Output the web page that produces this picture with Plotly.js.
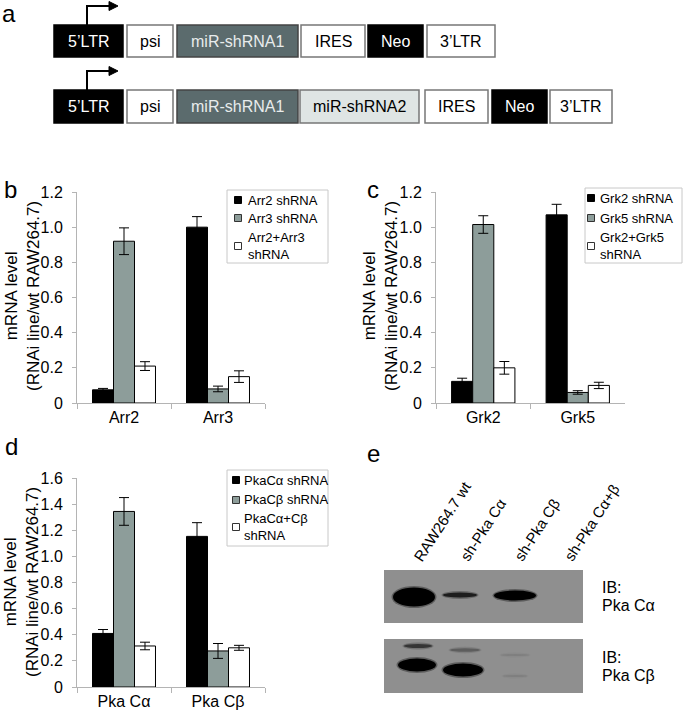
<!DOCTYPE html>
<html>
<head>
<meta charset="utf-8">
<script src="https://cdn.plot.ly/plotly-3.0.1.min.js"></script>
<style>html,body{margin:0;padding:0;background:#fff;}#chart{width:685px;height:714px;}</style>
</head>
<body>
<div id="chart"></div>
<script>
// ---------- DATA ----------
// panel b
const catsB = ['Arr2', 'Arr3'];
const namesB = ['Arr2 shRNA', 'Arr3 shRNA', 'Arr2+Arr3<br>shRNA'];
const arr2sh = [0.075, 1.00];
const arr3sh = [0.92, 0.08];
const arr23sh = [0.21, 0.15];
const arr2shErr = [0.008, 0.06];
const arr3shErr = [0.076, 0.016];
const arr23shErr = [0.025, 0.033];
// panel c
const catsC = ['Grk2', 'Grk5'];
const namesC = ['Grk2 shRNA', 'Grk5 shRNA', 'Grk2+Grk5<br>shRNA'];
const grk2sh = [0.123, 1.07];
const grk5sh = [1.015, 0.06];
const grk25sh = [0.20, 0.10];
const grk2shErr = [0.018, 0.06];
const grk5shErr = [0.05, 0.01];
const grk25shErr = [0.036, 0.018];
// panel d
const catsD = ['Pka Cα', 'Pka Cβ'];
const namesD = ['PkaCα shRNA', 'PkaCβ shRNA', 'PkaCα+Cβ<br>shRNA'];
const pkaAsh = [0.41, 1.153];
const pkaBsh = [1.344, 0.276];
const pkaABsh = [0.314, 0.30];
const pkaAshErr = [0.03, 0.105];
const pkaBshErr = [0.106, 0.057];
const pkaABshErr = [0.029, 0.019];
// tick labels
const ticksBC = [0, 0.2, 0.4, 0.6, 0.8, 1.0, 1.2];
const tickTextBC = ['0', '0.2', '0.4', '0.6', '0.8', '1.0', '1.2'];
const ticksD = [0, 0.2, 0.4, 0.6, 0.8, 1.0, 1.2, 1.4, 1.6];
const tickTextD = ['0', '0.2', '0.4', '0.6', '0.8', '1.0', '1.2', '1.4', '1.6'];
const yTitle = 'mRNA level<br>(RNAi line/wt RAW264.7)';
// panel a construct elements
const row1Labels = ['5’LTR', 'psi', 'miR-shRNA1', 'IRES', 'Neo', '3’LTR'];
const row2Labels = ['5’LTR', 'psi', 'miR-shRNA1', 'miR-shRNA2', 'IRES', 'Neo', '3’LTR'];
// panel e lanes
const laneLabels = ['RAW264.7 wt', 'sh-Pka Cα', 'sh-Pka Cβ', 'sh-Pka Cα+β'];

// ---------- STYLE / LAYOUT HELPERS ----------
const W = 685, H = 714;
const px = x => x / W;
const py = y => 1 - y / H;
const FONT = 'Liberation Sans, Arial, sans-serif';
const colBlack = '#000000', colGray = '#8d9d9a', colWhite = '#ffffff';
const fills = [colBlack, colGray, colWhite];
const axisCol = '#b4b4b4';
const dark = '#5b6b6d', light = '#dfe5e4';

const styleOf = {
  '5’LTR': {fill: '#000', text: '#fff', line: '#000'},
  'psi': {fill: '#fff', text: '#000', line: '#777'},
  'miR-shRNA1': {fill: dark, text: '#e8ecec', line: '#444'},
  'miR-shRNA2': {fill: light, text: '#000', line: '#777'},
  'IRES': {fill: '#fff', text: '#000', line: '#777'},
  'Neo': {fill: '#000', text: '#fff', line: '#000'},
  '3’LTR': {fill: '#fff', text: '#000', line: '#777'}
};
const row1X = [[54, 123], [127, 173], [177, 298], [301, 365], [368, 423], [427, 495]];
const row2X = [[54, 123], [127, 173], [177, 298], [300, 419], [425, 488], [492, 547], [550, 612]];

const shapes = [];
const annotations = [];
const rectPx = (x0, x1, y0, y1, fill, line, lw) => ({type: 'rect', xref: 'paper', yref: 'paper',
  x0: px(x0), x1: px(x1), y0: py(y1), y1: py(y0), fillcolor: fill, line: {color: line, width: lw}});
const textPx = (x, y, t, size, opts) => Object.assign({xref: 'paper', yref: 'paper', x: px(x), y: py(y), text: t,
  showarrow: false, xanchor: 'center', yanchor: 'middle', font: {family: FONT, size: size, color: '#000'}}, opts || {});

function addRow(labels, xs, y0, y1) {
  labels.forEach((lab, i) => {
    const s = styleOf[lab];
    shapes.push(rectPx(xs[i][0], xs[i][1], y0, y1, s.fill, s.line, 1.5));
    annotations.push(textPx((xs[i][0] + xs[i][1]) / 2, (y0 + y1) / 2, lab, 16,
      {font: {family: FONT, size: 16, color: s.text}}));
  });
}
addRow(row1Labels, row1X, 25, 57);
addRow(row2Labels, row2X, 90, 123);

function addPromoterArrow(yBase, yTop) {
  shapes.push({type: 'path', xref: 'paper', yref: 'paper',
    path: `M ${px(87)},${py(yBase)} L ${px(87)},${py(yTop)} L ${px(111)},${py(yTop)}`,
    line: {color: '#000', width: 2}});
  shapes.push({type: 'path', xref: 'paper', yref: 'paper',
    path: `M ${px(109)},${py(yTop - 4.5)} L ${px(118)},${py(yTop)} L ${px(109)},${py(yTop + 4.5)} Z`,
    fillcolor: '#000', line: {color: '#000', width: 1}});
}
addPromoterArrow(25, 6);
addPromoterArrow(90, 71);

// panel labels
[['a', 9, 13], ['b', 10, 190], ['c', 373, 190], ['d', 11, 446], ['e', 373, 453]].forEach(([t, x, y]) => {
  annotations.push(textPx(x, y, t, 24));
});

// y-axis titles
[[22, 296], [380, 296], [21, 582]].forEach(([x, y]) => {
  annotations.push(textPx(x, y, yTitle, 17, {textangle: -90}));
});

// ---------- custom legends (built from the name arrays) ----------
function addLegend(names, box, sqX, textX, ys) {
  shapes.push(rectPx(box[0], box[1], box[2], box[3], '#fff', '#c8c8c8', 1));
  names.forEach((n, i) => {
    shapes.push(rectPx(sqX - 3.5, sqX + 3.5, ys[i] - 3.5, ys[i] + 3.5, fills[i], i === 0 ? '#000' : '#333', 1));
    annotations.push(textPx(textX, ys[i], n, 13, {xanchor: 'left', align: 'left'}));
  });
}
addLegend(namesB, [227, 328, 190, 263], 238, 246, [200, 218, 246]);
addLegend(namesC, [585, 682, 188, 263], 591, 598, [198, 218, 246]);
addLegend(namesD, [227, 328, 470, 546], 236, 242, [480, 500, 527]);

// ---------- panel e (western blot drawing) ----------
const laneX = [414, 461, 515, 565];
const blots = [[384, 583, 570, 623], [384, 583, 639, 693]];
blots.forEach(b => shapes.push(rectPx(b[0], b[1], b[2], b[3], '#8f8f8f', '#8f8f8f', 0)));
// bands: [laneIndex, dx, cy, w, h, color, opacity]
const bands = [
  [0, 0, 597, 42, 19, '#000', 1], [1, -1, 595, 34, 5, '#111', 0.85], [2, 0, 595.5, 42, 10, '#000', 1],
  [0, 4, 646, 28, 4, '#222', 0.75], [1, 4, 650, 30, 3.5, '#333', 0.45], [2, 0, 655, 28, 2, '#555', 0.2],
  [0, 3, 665, 38, 13, '#000', 1], [1, 2, 670, 40, 13, '#000', 1], [2, 0, 676, 24, 2, '#555', 0.2]
];
bands.forEach(([li, dx, cy, w, h, c, o]) => {
  const cx = laneX[li] + dx;
  shapes.push({type: 'circle', xref: 'paper', yref: 'paper', x0: px(cx - w / 2 - 1.5), x1: px(cx + w / 2 + 1.5),
    y0: py(cy + h / 2 + 1.5), y1: py(cy - h / 2 - 1.5), fillcolor: c, opacity: o * 0.35, line: {width: 0}});
  shapes.push({type: 'circle', xref: 'paper', yref: 'paper', x0: px(cx - w / 2), x1: px(cx + w / 2),
    y0: py(cy + h / 2), y1: py(cy - h / 2), fillcolor: c, opacity: o, line: {width: 0}});
});
laneLabels.forEach((t, i) => {
  annotations.push(textPx(laneX[i] - 7, 567, t, 15, {textangle: -57, xanchor: 'left', yanchor: 'bottom'}));
});
[['IB:', 587], ['Pka Cα', 605], ['IB:', 657], ['Pka Cβ', 675]].forEach(([t, y]) => {
  annotations.push(textPx(600, y, t, 16, {xanchor: 'left'}));
});

// ---------- bar traces ----------
function barTrace(x, y, err, name, i, xa, ya) {
  return {type: 'bar', x: x, y: y, name: name, xaxis: xa, yaxis: ya, showlegend: false,
    marker: {color: fills[i], line: {color: '#000', width: 1}},
    error_y: {type: 'data', array: err, visible: true, color: '#000', thickness: 1, width: 5}};
}
const data = [
  barTrace(catsB, arr2sh, arr2shErr, namesB[0], 0, 'x', 'y'),
  barTrace(catsB, arr3sh, arr3shErr, namesB[1], 1, 'x', 'y'),
  barTrace(catsB, arr23sh, arr23shErr, namesB[2], 2, 'x', 'y'),
  barTrace(catsC, grk2sh, grk2shErr, namesC[0], 0, 'x2', 'y2'),
  barTrace(catsC, grk5sh, grk5shErr, namesC[1], 1, 'x2', 'y2'),
  barTrace(catsC, grk25sh, grk25shErr, namesC[2], 2, 'x2', 'y2'),
  barTrace(catsD, pkaAsh, pkaAshErr, namesD[0], 0, 'x3', 'y3'),
  barTrace(catsD, pkaBsh, pkaBshErr, namesD[1], 1, 'x3', 'y3'),
  barTrace(catsD, pkaABsh, pkaABshErr, namesD[2], 2, 'x3', 'y3')
];

function xAx(d, anchor) {
  return {domain: d, anchor: anchor, type: 'category', showline: true, linecolor: axisCol, linewidth: 1,
    ticks: 'outside', tickson: 'boundaries', ticklen: 5, tickcolor: axisCol, showgrid: false, zeroline: false,
    tickfont: {family: FONT, size: 16, color: '#000'}, fixedrange: true};
}
function yAx(d, anchor, range, tv, tt) {
  return {domain: d, anchor: anchor, range: range, tickvals: tv, ticktext: tt, showline: true, linecolor: axisCol,
    linewidth: 1, ticks: 'outside', ticklen: 4, tickcolor: axisCol, showgrid: false, zeroline: false,
    ticklabelstandoff: 6, tickfont: {family: FONT, size: 16, color: '#000'}, fixedrange: true};
}

const layout = {
  width: W, height: H, margin: {l: 0, r: 0, t: 0, b: 0}, paper_bgcolor: '#fff', plot_bgcolor: '#fff',
  barmode: 'group', bargap: 0.33, bargroupgap: 0, showlegend: false,
  font: {family: FONT, color: '#000'},
  xaxis: xAx([px(77), px(265)], 'y'),
  yaxis: yAx([py(403), py(192)], 'x', [0, 1.2], ticksBC, tickTextBC),
  xaxis2: xAx([px(436), px(625)], 'y2'),
  yaxis2: yAx([py(403), py(192)], 'x2', [0, 1.2], ticksBC, tickTextBC),
  xaxis3: xAx([px(77), px(265)], 'y3'),
  yaxis3: yAx([py(687), py(478)], 'x3', [0, 1.6], ticksD, tickTextD),
  shapes: shapes,
  annotations: annotations
};
Plotly.newPlot('chart', data, layout, {displayModeBar: false, staticPlot: true});
</script>
</body>
</html>
